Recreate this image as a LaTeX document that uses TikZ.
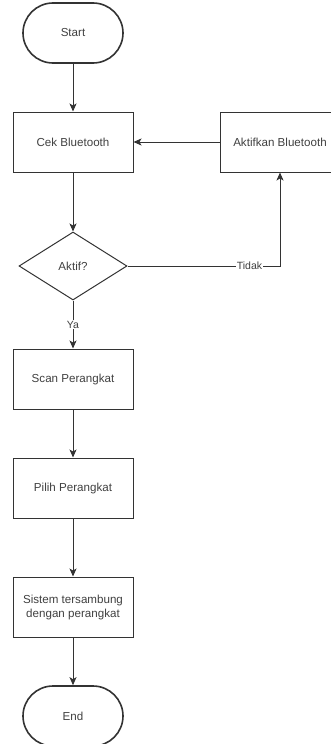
\documentclass[tikz,border=0pt]{standalone}
\usepackage{fontspec}
\setmainfont{Liberation Sans}
\usetikzlibrary{shapes.geometric, arrows, arrows.meta}
\definecolor{line-gray}{gray}{0.2}
\definecolor{text-gray}{gray}{0.25}

\begin{document}
\begin{tikzpicture}[x=1pt, y=-1pt, >={Stealth[length=8pt, width=7pt, inset=2pt]},
  font=\fontsize{11.6}{14}\selectfont, text=text-gray,
  proses/.style={draw=line-gray, line width=1pt, rectangle, minimum width=120pt, minimum height=60pt, align=center},
  terminal/.style={draw=line-gray, line width=1.6pt, rectangle, rounded corners=30pt, minimum width=100pt, minimum height=60pt},
  keputusan/.style={draw=line-gray, line width=1pt, diamond, minimum width=108pt, minimum height=68pt, inner sep=0pt},
  panah/.style={->, draw=line-gray, line width=1pt},
  ket/.style={fill=white, inner sep=1pt, font=\fontsize{10.5}{12}\selectfont}]%Flowchart Bluetooth
  \useasboundingbox (0,0) rectangle (331,744);
  \node[terminal] (start) at (73,33) {Start};
  \node[proses] (cek) at (73,142) {Cek Bluetooth};
  \node[proses] (aktifkan) at (280,142) {Aktifkan Bluetooth};
  \node[keputusan] (aktif) at (73,266) {Aktif?};
  \node[proses] (scan) at (73,379) {Scan Perangkat};
  \node[proses] (pilih) at (73,488) {Pilih Perangkat};
  \node[proses] (sistem) at (73,607) {Sistem tersambung\\dengan perangkat};
  \node[terminal] (end) at (73,716) {End};
%  arrows
  \draw[panah] (start) -- (cek);
  \draw[panah] (aktifkan) -- (cek);
  \draw[panah] (cek) -- (aktif);
  \draw[panah] (aktif.east) -| node[ket, pos=0.4] {Tidak} (aktifkan);
  \draw[panah] (aktif) -- node[ket] {Ya} (scan);
  \draw[panah] (scan) -- (pilih);
  \draw[panah] (pilih) -- (sistem);
  \draw[panah] (sistem) -- (end);
\end{tikzpicture}
\end{document}
